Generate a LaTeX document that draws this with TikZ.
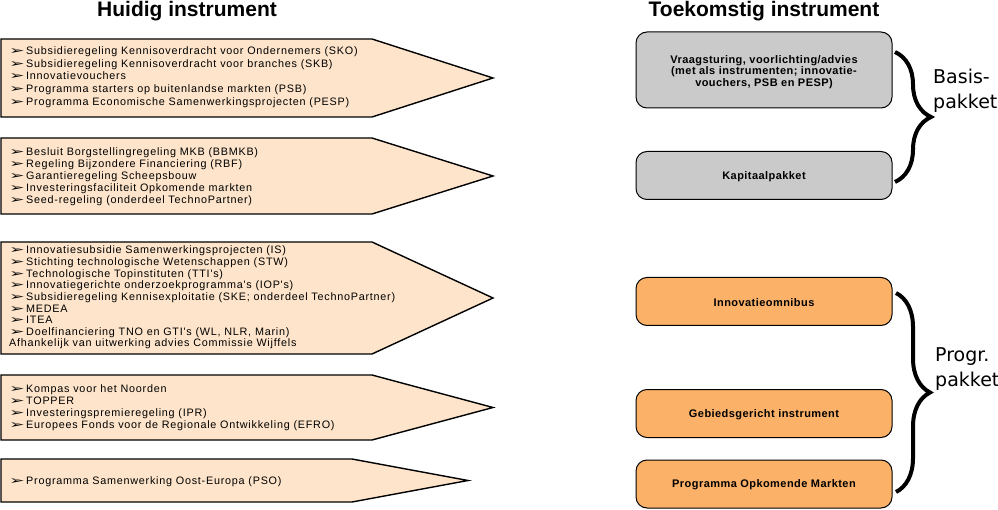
\documentclass[tikz,border=0pt]{standalone}
\usepackage{fontspec}
\setmainfont{Liberation Sans}
\newfontfamily\lefttxt[LetterSpace=7]{Liberation Sans}
\newfontfamily\boxtxt[LetterSpace=4]{Liberation Sans}
\newfontfamily\dvfont{DejaVu Sans}
\usetikzlibrary{decorations.pathreplacing}
\definecolor{peach}{HTML}{FDE4CA}
\definecolor{greybox}{HTML}{CACACA}
\definecolor{orangebox}{HTML}{FBB168}
\newcommand{\mybul}{\makebox[17pt][l]{\scalebox{1.7}[1]{\dvfont\fontsize{11}{11}\selectfont ➢}}}
\begin{document}
\begin{tikzpicture}[x=1pt,y=-1pt,
  arrowshape/.style={draw=black, line width=1.4pt, fill=peach, line join=miter},
  listtext/.style={anchor=base west, inner sep=0pt, align=left, font=\lefttxt\fontsize{10.8}{#1}\selectfont},
  rbox/.style={draw=black, line width=1pt, rounded corners=11pt, minimum width=256pt, inner sep=0pt},
  rboxtext/.style={font=\boxtxt\bfseries\fontsize{11}{10.2}\selectfont, align=center},
  title/.style={font=\bfseries\fontsize{21}{21}\selectfont, anchor=base, inner sep=0pt},
  bracelbl/.style={font=\dvfont\fontsize{19}{25}\selectfont, anchor=base west, align=left, inner sep=0pt},
  bigbrace/.style={decorate, decoration={brace, amplitude=#1}, line width=4pt}
]
\useasboundingbox (0,0) rectangle (998,510);

% titles
\node[title] (t1) at (187,17) {Huidig instrument};
\node[title] (t2) at (764,17) {Toekomstig instrument};

% left arrows
\draw[arrowshape] (1,39) -- (372,39) -- (493,78) -- (372,117) -- (1,117) -- cycle;
\draw[arrowshape] (1,138) -- (372,138) -- (493,176) -- (372,214) -- (1,214) -- cycle;
\draw[arrowshape] (1,242) -- (372,242) -- (493,298) -- (372,354) -- (1,354) -- cycle;
\draw[arrowshape] (1,375) -- (372,375) -- (493,407.5) -- (372,440) -- (1,440) -- cycle;
\draw[arrowshape] (1,459) -- (352,459) -- (468,480.5) -- (352,502) -- (1,502) -- cycle;

% list texts (base anchor = baseline of last line)
\node[listtext=12.75] (l1) at (9,105.5) {\mybul Subsidieregeling Kennisoverdracht voor Ondernemers (SKO)\\
\mybul Subsidieregeling Kennisoverdracht voor branches (SKB)\\
\mybul Innovatievouchers\\
\mybul Programma starters op buitenlandse markten (PSB)\\
\mybul Programma Economische Samenwerkingsprojecten (PESP)};

\node[listtext=12.1] (l2) at (9,203.9) {\mybul Besluit Borgstellingregeling MKB (BBMKB)\\
\mybul Regeling Bijzondere Financiering (RBF)\\
\mybul Garantieregeling Scheepsbouw\\
\mybul Investeringsfaciliteit Opkomende markten\\
\mybul Seed-regeling (onderdeel TechnoPartner)};

\node[listtext=11.65] (l3) at (9,347) {\mybul Innovatiesubsidie Samenwerkingsprojecten (IS)\\
\mybul Stichting technologische Wetenschappen (STW)\\
\mybul Technologische Topinstituten (TTI's)\\
\mybul Innovatiegerichte onderzoekprogramma's (IOP's)\\
\mybul Subsidieregeling Kennisexploitatie (SKE; onderdeel TechnoPartner)\\
\mybul MEDEA\\
\mybul ITEA\\
\mybul Doelfinanciering TNO en GTI's (WL, NLR, Marin)\\
Afhankelijk van uitwerking advies Commissie Wijffels};

\node[listtext=12] (l4) at (9,428.8) {\mybul Kompas voor het Noorden\\
\mybul TOPPER\\
\mybul Investeringspremieregeling (IPR)\\
\mybul Europees Fonds voor de Regionale Ontwikkeling (EFRO)};

\node[listtext=12] (l5) at (9,484.8) {\mybul Programma Samenwerking Oost-Europa (PSO)};

% right boxes
\node[rbox, fill=greybox, minimum height=76pt] (b1) at (764,70) {};
\node[rboxtext] (b1t) at (764,72) {Vraagsturing, voorlichting/advies\\(met als instrumenten; innovatie-\\vouchers, PSB en PESP)};
\node[rbox, fill=greybox, minimum height=48pt] (b2) at (764,175.5) {};
\node[rboxtext] (b2t) at (764,176.5) {Kapitaalpakket};
\node[rbox, fill=orangebox, minimum height=48pt] (b3) at (764,301.5) {};
\node[rboxtext] (b3t) at (764,302.5) {Innovatieomnibus};
\node[rbox, fill=orangebox, minimum height=48pt] (b4) at (764,413.5) {};
\node[rboxtext] (b4t) at (764,414.5) {Gebiedsgericht instrument};
\node[rbox, fill=orangebox, minimum height=48pt] (b5) at (764,484) {};
\node[rboxtext] (b5t) at (764,485) {Programma Opkomende Markten};

% braces
\coordinate (br1a) at (895,52);
\coordinate (br1b) at (895,182);
\coordinate (br2a) at (896,293);
\coordinate (br2b) at (896,492);
\draw[bigbrace=36pt] (br1a) -- (br1b);
\draw[bigbrace=34pt] (br2a) -- (br2b);

\node[bracelbl] (basis) at (933,109) {Basis-\\pakket};
\node[bracelbl] (progr) at (935,386) {Progr.\\pakket};
\end{tikzpicture}
\end{document}
